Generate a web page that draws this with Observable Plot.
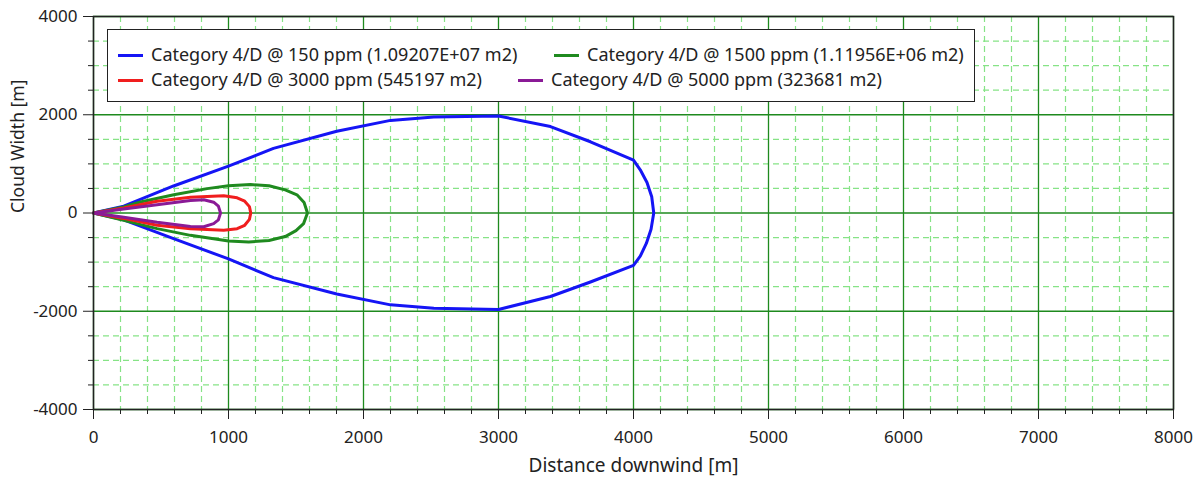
<!DOCTYPE html>
<html>
<head>
<meta charset="utf-8">
<script src="https://cdn.jsdelivr.net/npm/d3@7"></script>
<script src="https://cdn.jsdelivr.net/npm/@observablehq/plot@0.6"></script>
<style>
  html, body { margin: 0; padding: 0; background: #fff; }
  #wrap { position: relative; width: 1196px; height: 479px; font-family: "Noto Sans", sans-serif; }
  #legend { position: absolute; left: 107px; top: 29px; width: 866px; height: 71px; border: 1.5px solid #222; background: #fff; }
  .item { position: absolute; font-size: 18px; color: #222; white-space: nowrap; line-height: 22px; }
  .sw { display: inline-block; width: 25px; height: 3px; vertical-align: middle; margin-right: 8px; position: relative; top: -1px; }
</style>
</head>
<body>
<div id="wrap"><div id="chart"></div><div id="legend"></div></div>
<script>
// Series names / labels
const seriesNames = [
  "Category 4/D @ 150 ppm (1.09207E+07 m2)",
  "Category 4/D @ 1500 ppm (1.11956E+06 m2)",
  "Category 4/D @ 3000 ppm (545197 m2)",
  "Category 4/D @ 5000 ppm (323681 m2)"
];
const seriesColors = ["#1515f5", "#1f8a1f", "#f01e1e", "#8a1a96"];

// 150 ppm contour
const x150 = [0, 224, 593, 1000, 1333, 1802, 2200, 2521, 3000, 3385, 3681, 4000, 4050, 4100, 4135, 4150,
              4130, 4095, 4050, 4000, 3681, 3385, 3000, 2521, 2200, 1802, 1333, 1000, 593, 224, 0];
const y150 = [0, 140, 550, 955, 1315, 1665, 1885, 1955, 1975, 1760, 1450, 1075, 880, 620, 330, 0,
              -330, -620, -880, -1065, -1405, -1700, -1965, -1940, -1870, -1650, -1315, -935, -520, -140, 0];

// 1500 ppm contour
const x1500 = [0, 224, 348, 595, 842, 1000, 1163, 1300, 1420, 1507, 1560, 1585, 1556, 1500, 1420, 1300, 1150, 1000, 718, 471, 224, 0];
const y1500 = [0, 125, 223, 373, 496, 555, 578, 555, 470, 370, 215, 0, -216, -360, -480, -560, -590, -570, -455, -318, -150, 0];

// 3000 ppm contour
const x3000 = [0, 224, 471, 718, 965, 1064, 1120, 1155, 1165, 1155, 1120, 1064, 965, 718, 471, 224, 0];
const y3000 = [0, 100, 240, 320, 350, 310, 240, 130, 0, -130, -250, -320, -350, -320, -250, -110, 0];

// 5000 ppm contour
const x5000 = [0, 224, 471, 718, 817, 890, 925, 941, 925, 890, 817, 718, 471, 224, 0];
const y5000 = [0, 80, 170, 255, 270, 220, 140, 0, -140, -215, -280, -275, -190, -85, 0];

// Axis ticks
const xMajor = [0, 1000, 2000, 3000, 4000, 5000, 6000, 7000, 8000];
const yMajor = [-4000, -2000, 0, 2000, 4000];
const xMinor = d3.range(0, 8001, 200).filter(v => v % 1000 !== 0);
const yMinor = d3.range(-4000, 4001, 500).filter(v => v % 2000 !== 0);

const xsAll = [x150, x1500, x3000, x5000];
const ysAll = [y150, y1500, y3000, y5000];
const rows = [];
seriesNames.forEach((name, i) => {
  xsAll[i].forEach((xv, j) => rows.push({series: name, x: xv, y: ysAll[i][j]}));
});

const txt = "#222";
const chart = Plot.plot({
  width: 1196,
  height: 479,
  marginLeft: 93,
  marginRight: 23,
  marginTop: 16,
  marginBottom: 70,
  style: {fontFamily: "Noto Sans", fontSize: "17px", color: txt, background: "#fff"},
  x: {domain: [0, 8000]},
  y: {domain: [-4000, 4000]},
  color: {domain: seriesNames, range: seriesColors},
  marks: [
    Plot.gridX(xMinor, {stroke: "#86e386", strokeOpacity: 1, strokeDasharray: "6,4", strokeWidth: 1.2}),
    Plot.gridY(yMinor, {stroke: "#86e386", strokeOpacity: 1, strokeDasharray: "6,4", strokeWidth: 1.2}),
    Plot.gridX(xMajor, {stroke: "#1e8a1e", strokeOpacity: 1, strokeWidth: 1.3}),
    Plot.gridY(yMajor, {stroke: "#1e8a1e", strokeOpacity: 1, strokeWidth: 1.3}),
    Plot.line(rows, {x: "x", y: "y", z: "series", stroke: "series", strokeWidth: 3, curve: "linear"}),
    Plot.frame({stroke: "#222", strokeWidth: 1.5}),
    Plot.axisX(xMinor, {tickSize: 5, text: null, stroke: "#222", label: null}),
    Plot.axisY(yMinor, {tickSize: 5, text: null, stroke: "#222", label: null}),
    Plot.axisX(xMajor, {tickSize: 10, tickPadding: 11, stroke: "#222", fill: txt, tickFormat: d => String(d), label: null}),
    Plot.axisY(yMajor, {tickSize: 10, tickPadding: 6, stroke: "#222", fill: txt, tickFormat: d => String(d), label: null}),
    Plot.text(["Distance downwind [m]"], {frameAnchor: "bottom", dy: 56, fontSize: 19, fill: txt, lineAnchor: "middle"}),
    Plot.text(["Cloud Width [m]"], {frameAnchor: "left", dx: -75, rotate: -90, fontSize: 17.5, fill: txt, lineAnchor: "middle"})
  ]
});
document.getElementById("chart").appendChild(chart);

// Legend (overlay inside the plot frame)
const legend = document.getElementById("legend");
const pos = [
  {left: 10, top: 13}, {left: 446, top: 13},
  {left: 10, top: 38}, {left: 410, top: 38}
];
seriesNames.forEach((name, i) => {
  const d = document.createElement("div");
  d.className = "item";
  d.style.left = pos[i].left + "px";
  d.style.top = pos[i].top + "px";
  const sw = document.createElement("span");
  sw.className = "sw";
  sw.style.background = seriesColors[i];
  d.appendChild(sw);
  d.appendChild(document.createTextNode(name));
  legend.appendChild(d);
});
</script>
</body>
</html>
